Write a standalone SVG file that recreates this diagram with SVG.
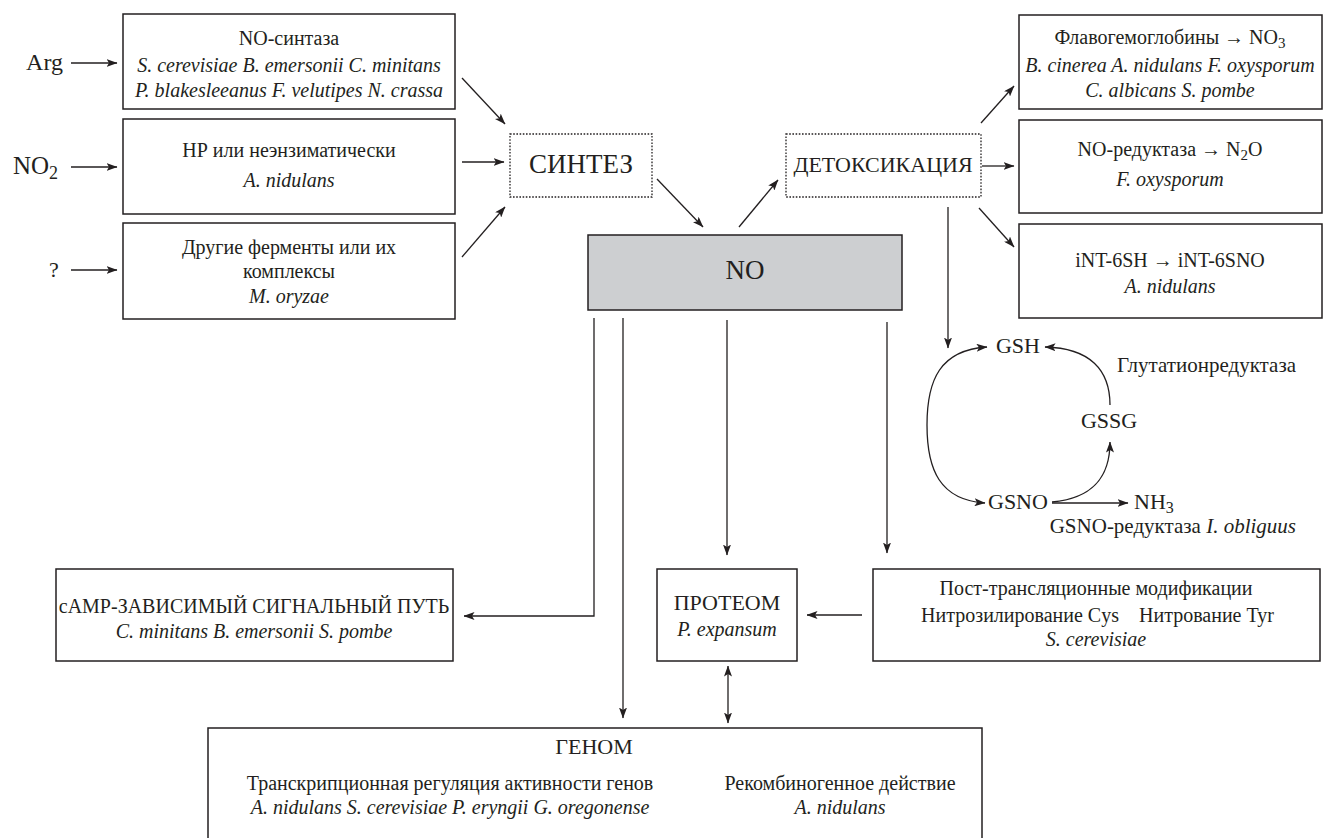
<svg xmlns="http://www.w3.org/2000/svg" width="1324" height="838" viewBox="0 0 1324 838">
<defs>
<style>
.box{fill:#fff;stroke:#231f20;stroke-width:1.5}
.dot{fill:none;stroke:#231f20;stroke-width:1.3;stroke-dasharray:1.6 1.6}
.ln{fill:none;stroke:#231f20;stroke-width:1.3}
text{font-family:"Liberation Serif","Times New Roman",serif;fill:#231f20;font-size:20px}
.c{text-anchor:middle}
.e{text-anchor:end}
.i{font-style:italic}
.big{font-size:27px}
.mid{font-size:22px}
</style>
<marker id="ah" viewBox="0 0 11 8" refX="10.5" refY="4" markerWidth="11" markerHeight="8" orient="auto-start-reverse" markerUnits="userSpaceOnUse">
<path d="M0,0 L11,4 L0,8 L2.5,4 z" fill="#231f20"/>
</marker>
</defs>
<rect width="1324" height="838" fill="#fff"/>

<g id="inputs">
<text x="63" y="70" text-anchor="end" style="font-size:24px">Arg</text>
<text x="13" y="174" style="font-size:25px">NO<tspan dy="5" style="font-size:18px">2</tspan></text>
<text x="54" y="277" class="c" style="font-size:22px">?</text>
</g>

<g id="nos">
<rect class="box" x="123" y="14" width="332" height="95"/>
<text x="289" y="45" class="c">NO-синтаза</text>
<text x="289" y="72" class="c i">S. cerevisiae B. emersonii C. minitans</text>
<text x="289" y="97" class="c i">P. blakesleeanus F. velutipes N. crassa</text>
</g>

<g id="hp">
<rect class="box" x="123" y="119" width="332" height="95"/>
<text x="289" y="157" class="c">НР или неэнзиматически</text>
<text x="289" y="187" class="c i">A. nidulans</text>
</g>

<g id="other">
<rect class="box" x="123" y="223" width="332" height="96"/>
<text x="289" y="254" class="c">Другие ферменты или их</text>
<text x="289" y="278" class="c">комплексы</text>
<text x="289" y="303" class="c i">M. oryzae</text>
</g>

<g id="synthesis">
<rect class="dot" x="510" y="134" width="142" height="63"/>
<text x="581" y="173" class="c big">СИНТЕЗ</text>
</g>

<g id="no">
<rect x="588" y="235" width="314" height="75" fill="#cdcfd1" stroke="#231f20" stroke-width="1.5"/>
<text x="745" y="279" class="c big">NO</text>
</g>

<g id="detox">
<rect class="dot" x="786" y="134" width="195" height="63"/>
<text x="883" y="172" class="c mid">ДЕТОКСИКАЦИЯ</text>
</g>

<g id="flavo">
<rect class="box" x="1019" y="15" width="303" height="94"/>
<text x="1170" y="44" class="c">Флавогемоглобины → NO<tspan dy="4" style="font-size:15px">3</tspan></text>
<text x="1170" y="72" class="c i">B. cinerea A. nidulans F. oxysporum</text>
<text x="1170" y="97" class="c i">C. albicans S. pombe</text>
</g>

<g id="noreductase">
<rect class="box" x="1019" y="120" width="303" height="93"/>
<text x="1170" y="156" class="c">NO-редуктаза → N<tspan dy="4" style="font-size:15px">2</tspan><tspan dy="-4">O</tspan></text>
<text x="1170" y="186" class="c i">F. oxysporum</text>
</g>

<g id="int">
<rect class="box" x="1019" y="224" width="303" height="94"/>
<text x="1170" y="267" class="c">iNT-6SH → iNT-6SNO</text>
<text x="1170" y="293" class="c i">A. nidulans</text>
</g>

<g id="cycle">
<text x="1018" y="353" class="c mid">GSH</text>
<text x="1109" y="428" class="c mid">GSSG</text>
<text x="988" y="509" class="mid">GSNO</text>
<text x="1134" y="509" class="mid">NH<tspan dy="4" style="font-size:16px">3</tspan></text>
<text x="1296" y="372" class="e" style="font-size:21px">Глутатионредуктаза</text>
<text x="1296" y="533" class="e" style="font-size:21px">GSNO-редуктаза <tspan class="i">I. obliguus</tspan></text>
</g>

<g id="camp">
<rect class="box" x="56" y="569" width="397" height="92"/>
<text x="254" y="613" class="c">cAMP-ЗАВИСИМЫЙ СИГНАЛЬНЫЙ ПУТЬ</text>
<text x="254" y="638" class="c i">C. minitans B. emersonii S. pombe</text>
</g>

<g id="proteome">
<rect class="box" x="657" y="569" width="140" height="92"/>
<text x="727" y="610" class="c mid">ПРОТЕОМ</text>
<text x="727" y="636" class="c i">P. expansum</text>
</g>

<g id="ptm">
<rect class="box" x="873" y="569" width="447" height="92"/>
<text x="1096" y="595" class="c">Пост-трансляционные модификации</text>
<text x="1119" y="622" class="e">Нитрозилирование Cys</text>
<text x="1139" y="622">Нитрование Tyr</text>
<text x="1096" y="646" class="c i">S. cerevisiae</text>
</g>

<g id="genome">
<rect class="box" x="208" y="728" width="774" height="130"/>
<text x="594" y="754" class="c mid">ГЕНОМ</text>
<text x="450" y="790" class="c">Транскрипционная регуляция активности генов</text>
<text x="450" y="814" class="c i">A. nidulans S. cerevisiae P. eryngii G. oregonense</text>
<text x="840" y="790" class="c">Рекомбиногенное действие</text>
<text x="840" y="814" class="c i">A. nidulans</text>
</g>

<g id="connectors">
<line class="ln" x1="71" y1="63" x2="117" y2="63" marker-end="url(#ah)"/>
<line class="ln" x1="71" y1="167" x2="117" y2="167" marker-end="url(#ah)"/>
<line class="ln" x1="71" y1="270" x2="117" y2="270" marker-end="url(#ah)"/>
<line class="ln" x1="462" y1="78" x2="505" y2="124" marker-end="url(#ah)"/>
<line class="ln" x1="462" y1="162" x2="504" y2="162" marker-end="url(#ah)"/>
<line class="ln" x1="462" y1="257" x2="505" y2="207" marker-end="url(#ah)"/>
<line class="ln" x1="657" y1="179" x2="703" y2="227" marker-end="url(#ah)"/>
<line class="ln" x1="739" y1="227" x2="778" y2="180" marker-end="url(#ah)"/>
<line class="ln" x1="981" y1="123" x2="1014" y2="86" marker-end="url(#ah)"/>
<line class="ln" x1="982" y1="166" x2="1014" y2="166" marker-end="url(#ah)"/>
<line class="ln" x1="979" y1="208" x2="1014" y2="247" marker-end="url(#ah)"/>
<line class="ln" x1="948" y1="207" x2="948" y2="348" marker-end="url(#ah)"/>
<polyline class="ln" points="594,318 594,616 464,616" marker-end="url(#ah)"/>
<line class="ln" x1="623" y1="318" x2="623" y2="718" marker-end="url(#ah)"/>
<line class="ln" x1="727" y1="320" x2="727" y2="555" marker-end="url(#ah)"/>
<line class="ln" x1="887" y1="322" x2="887" y2="553" marker-end="url(#ah)"/>
<line class="ln" x1="862" y1="615" x2="807" y2="615" marker-end="url(#ah)"/>
<line class="ln" x1="728" y1="666" x2="728" y2="723" marker-start="url(#ah)" marker-end="url(#ah)"/>
<line class="ln" x1="1052" y1="503" x2="1128" y2="503" marker-end="url(#ah)"/>
<path class="ln" d="M985,503 C940,500 927,470 927,425 C927,380 940,350 987,347" marker-start="url(#ah)" marker-end="url(#ah)"/>
<path class="ln" d="M1052,502 C1095,498 1110,475 1110,442" marker-end="url(#ah)"/>
<path class="ln" d="M1110,405 C1110,370 1090,348 1045,347" marker-end="url(#ah)"/>
</g>
</svg>
